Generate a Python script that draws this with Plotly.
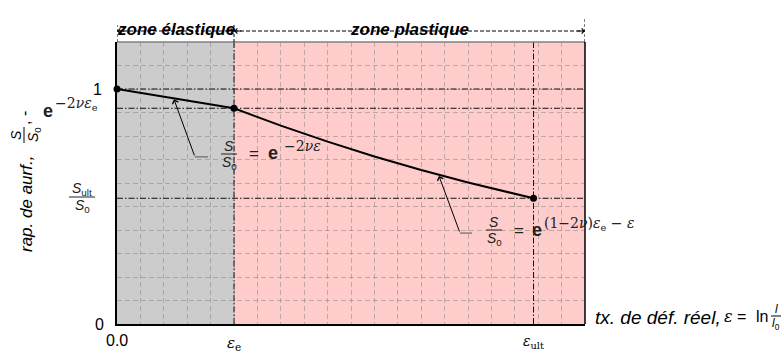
import plotly.graph_objects as go

# ---------------- data ----------------
x_range = [0.0, 2.0]
y_range = [0.0, 1.2]
eps_e = 0.5          # elastic limit strain (position of ε_e)
eps_ult = 1.78       # ultimate strain (position of ε_ult)
s_e = 0.918          # S/S0 at ε_e  (e^{-2νε_e})
s_ult = 0.535        # S_ult/S0

curve_x = [0.0, 0.25, 0.5, 0.7, 0.9, 1.1, 1.3, 1.5, 1.78]
curve_y = [1.0, 0.958, 0.918, 0.844, 0.776, 0.713, 0.655, 0.602, 0.535]

key_x = [0.0, eps_e, eps_ult]
key_y = [1.0, s_e, s_ult]

h_ref = [1.0, s_e, s_ult]
v_ref = [eps_e, eps_ult]

zone_labels = ["zone élastique", "zone plastique"]
zone_bounds = [(0.0, eps_e), (eps_e, 2.0)]
zone_colors = ["#cccccc", "#ffcccc"]

# ---------------- layout geometry ----------------
W, H = 782, 353
L, R, T, B = 117, 585, 42, 324


def PX(px):
    return (px - L) / (R - L)


def PY(py):
    return (B - py) / (B - T)


SANS = "Liberation Sans"
SERIF = "DejaVu Serif"

fig = go.Figure()

# zones (background rectangles)
for (x0, x1), col in zip(zone_bounds, zone_colors):
    fig.add_shape(type="rect", xref="x", yref="y", x0=x0, x1=x1,
                  y0=y_range[0], y1=y_range[1], fillcolor=col,
                  line=dict(width=0), layer="below")

# dash-dot reference lines
DD = "6px,2px,1.5px,2px"
for yv in h_ref:
    fig.add_trace(go.Scatter(x=x_range, y=[yv, yv], mode="lines",
                             line=dict(color="#111111", width=1, dash=DD),
                             hoverinfo="skip", showlegend=False))
for xv in v_ref:
    fig.add_trace(go.Scatter(x=[xv, xv], y=y_range, mode="lines",
                             line=dict(color="#111111", width=1, dash=DD),
                             hoverinfo="skip", showlegend=False))

# main curve
fig.add_trace(go.Scatter(x=curve_x, y=curve_y, mode="lines",
                         line=dict(color="black", width=2),
                         hoverinfo="skip", showlegend=False))
fig.add_trace(go.Scatter(x=key_x, y=key_y, mode="markers",
                         marker=dict(color="black", size=7),
                         cliponaxis=False, hoverinfo="skip", showlegend=False))

# borders: top gray, right black
fig.add_shape(type="line", xref="paper", yref="paper", x0=0, x1=1, y0=1, y1=1,
              line=dict(color="#7f7f7f", width=1.5))
fig.add_shape(type="line", xref="paper", yref="paper", x0=1, x1=1, y0=0, y1=1,
              line=dict(color="black", width=1.5))

# top zone arrows
ya = PY(31)
for (x0, x1) in zone_bounds:
    fig.add_shape(type="line", xref="x", yref="paper", x0=x0, x1=x1, y0=ya, y1=ya,
                  line=dict(color="black", width=1, dash="4px,2px"))
    for xt, off in [(x0, 9), (x1, -9)]:
        fig.add_annotation(x=xt, y=ya, xref="x", yref="paper", ax=off, ay=0,
                           axref="pixel", ayref="pixel", text="", showarrow=True,
                           arrowhead=4, arrowsize=1, arrowwidth=1, arrowcolor="black",
                           standoff=0)
for xt, ytop in [(0.0, 25), (eps_e, 25), (2.0, 19)]:
    fig.add_shape(type="line", xref="x", yref="paper", x0=xt, x1=xt, y0=1, y1=PY(ytop),
                  line=dict(color="black", width=1, dash="3px,2px"))
for lab, (x0, x1) in zip(zone_labels, zone_bounds):
    fig.add_annotation(x=(x0 + x1) / 2, y=PY(18), xref="x", yref="paper",
                       text="<b><i>%s</i></b>" % lab, showarrow=False,
                       font=dict(family=SANS, size=17, color="black"))


def txt(px, py, text, size, family=SANS, xanchor="center", angle=0, color="black"):
    fig.add_annotation(x=PX(px), y=PY(py), xref="paper", yref="paper", text=text,
                       showarrow=False, xanchor=xanchor, yanchor="middle",
                       textangle=angle, font=dict(family=family, size=size, color=color))


def hline(px0, px1, py, color="black", width=1):
    fig.add_shape(type="line", xref="paper", yref="paper", x0=PX(px0), x1=PX(px1),
                  y0=PY(py), y1=PY(py), line=dict(color=color, width=width))


def vline(px, py0, py1, color="black", width=1):
    fig.add_shape(type="line", xref="paper", yref="paper", x0=PX(px), x1=PX(px),
                  y0=PY(py0), y1=PY(py1), line=dict(color=color, width=width))


def frac(cx, bar_y, num, den, size=14, half=8, color="#222", dy=8):
    txt(cx, bar_y - dy, num, size, color=color)
    txt(cx, bar_y + dy + 1, den, size, color=color)
    hline(cx - half, cx + half, bar_y, color=color, width=1)


S0 = "<i>S</i><sub>0</sub>"

# curve annotations with arrows
ann = [
    # tip (data), tail (data)
    ((0.2436, 0.956), (0.333, 0.711), 0.389),
    ((1.376, 0.630), (1.466, 0.387), 1.517),
]
for (tx, ty), (ax, ay), lead in ann:
    fig.add_annotation(x=tx, y=ty, xref="x", yref="y", ax=ax, ay=ay, axref="x", ayref="y",
                       text="", showarrow=True, arrowhead=4, arrowsize=1.2, arrowwidth=1,
                       arrowcolor="black", standoff=0)
    fig.add_shape(type="line", xref="x", yref="y", x0=ax, x1=lead, y0=ay, y1=ay,
                  line=dict(color="#555555", width=1))

# annotation 1 text
frac(229, 154, "<i>S</i>", S0)
txt(254, 153, "=", 17, color="#222")
txt(273, 153, "<b>e</b>", 18, color="#222")
txt(282, 146, "−2<i>νε</i>", 14, family=SERIF, xanchor="left", color="#222")

# annotation 2 text
frac(494, 230, "<i>S</i>", S0)
txt(519, 230, "=", 17, color="#222")
txt(537, 230, "<b>e</b>", 18, color="#222")
txt(542, 224, "(1−2<i>ν</i>)<i>ε</i><sub>e</sub> − <i>ε</i>", 14, family=SERIF,
    xanchor="left", color="#222")

# y tick-like labels
fig.add_annotation(x=PX(104), y=1.0, xref="paper", yref="y", text="1", showarrow=False,
                   xanchor="right", yanchor="middle", font=dict(family=SANS, size=16))
fig.add_annotation(x=PX(106), y=0.0, xref="paper", yref="y", text="0", showarrow=False,
                   xanchor="right", yanchor="middle", font=dict(family=SANS, size=16))
txt(47.5, 111, "<b>e</b>", 18, color="#222")
txt(53, 104, "−2<i>νε</i><sub>e</sub>", 14, family=SERIF, xanchor="left", color="#222")
frac(82, 197, "<i>S</i><sub>ult</sub>", S0, size=14, half=13)

# x tick-like labels
fig.add_annotation(x=0.0, y=PY(340), xref="x", yref="paper", text="0.0", showarrow=False,
                   yanchor="middle", font=dict(family=SANS, size=16))
fig.add_annotation(x=eps_e, y=PY(343), xref="x", yref="paper", text="<i>ε</i><sub>e</sub>",
                   showarrow=False, yanchor="middle", font=dict(family=SERIF, size=15))
fig.add_annotation(x=eps_ult, y=PY(342), xref="x", yref="paper",
                   text="<i>ε</i><sub>ult</sub>", showarrow=False, yanchor="middle",
                   font=dict(family=SERIF, size=14))

# x axis title
txt(593, 317, "<i>tx. de déf. réel,</i>", 19, xanchor="left")
txt(728, 316, "<i>ε</i>", 16, family=SERIF)
txt(741, 316, "=", 16)
txt(762, 316, "ln", 16)
frac(776, 316, "<i>l</i>", "<i>l</i><sub>0</sub>", size=12, half=5, color="black", dy=7)

# y axis title (rotated)
txt(26, 204, "<i>rap. de aurf.,</i>", 17, angle=-90)
txt(16, 135, "<i>S</i>", 14, angle=-90)
txt(34, 135, S0, 14, angle=-90)
vline(24, 127, 143)
txt(25, 118, ", -", 16, angle=-90)

GRID = "rgba(120,120,120,0.45)"
fig.update_xaxes(range=x_range, dtick=0.1, tick0=0, showgrid=True, gridcolor=GRID,
                 gridwidth=1, griddash="5px,3px", showticklabels=False, ticks="",
                 zeroline=False, showline=True, linecolor="black", linewidth=1.5,
                 mirror=False)
fig.update_yaxes(range=y_range, dtick=0.1, tick0=0, showgrid=True, gridcolor=GRID,
                 gridwidth=1, griddash="5px,3px", showticklabels=False, ticks="",
                 zeroline=False, showline=True, linecolor="black", linewidth=1.5,
                 mirror=False)
fig.update_layout(width=W, height=H, margin=dict(l=L, r=W - R, t=T, b=H - B),
                  plot_bgcolor="white", paper_bgcolor="white", showlegend=False,
                  font=dict(family=SANS, color="black"))

fig.write_html("out.html", config={"displayModeBar": False},
               post_script="document.body.style.margin='0';"
                           "document.body.style.overflow='hidden';")
